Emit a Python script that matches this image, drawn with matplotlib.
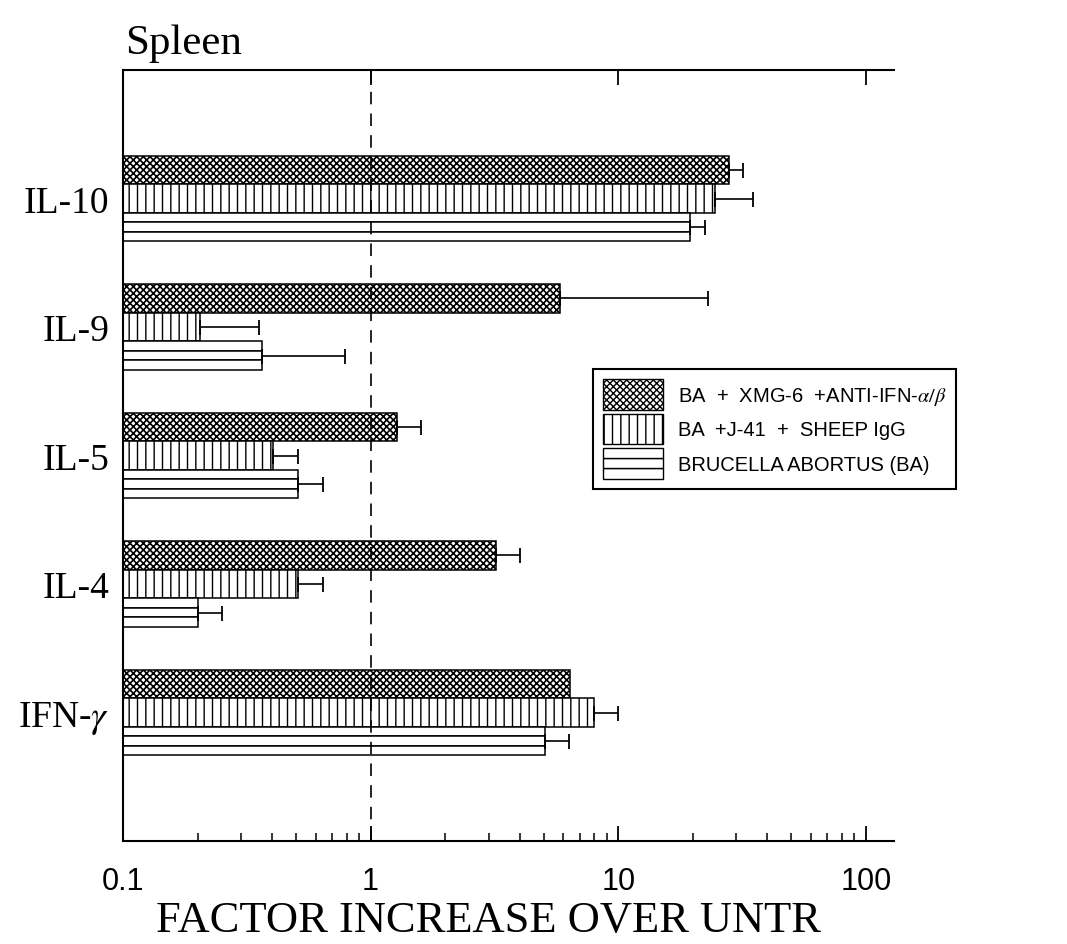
import numpy as np
import matplotlib
matplotlib.use("Agg")
import matplotlib.pyplot as plt
from matplotlib.patches import Patch, Rectangle
from matplotlib.legend_handler import HandlerBase
from matplotlib.ticker import LogLocator, FixedLocator, NullFormatter

plt.rcParams['mathtext.fontset'] = 'stix'

# ---- data ----
cytokines = ["IL-10", "IL-9", "IL-5", "IL-4", "IFN-$\\gamma$"]
series_labels = ["BA  +  XMG-6  +ANTI-IFN-$\\alpha/\\beta$",
                 "BA  +J-41  +  SHEEP IgG",
                 "BRUCELLA ABORTUS (BA)"]
xmg6_vals = [28.0, 5.8, 1.28, 3.2, 6.4]
xmg6_upper = [32.0, 23.0, 1.6, 4.0, np.nan]
j41_vals = [24.5, 0.204, 0.405, 0.51, 8.0]
j41_upper = [35.0, 0.355, 0.51, 0.64, 10.0]
ba_vals = [19.5, 0.363, 0.51, 0.20, 5.05]
ba_upper = [22.5, 0.79, 0.64, 0.25, 6.3]
xticks = [0.1, 1, 10, 100]
xticklabels = ["0.1", "1", "10", "100"]

XMIN, XMAX = 0.1, 130

fig = plt.figure(figsize=(10.67, 9.45), dpi=100)
ax = fig.add_axes([123/1067, 1-842/945, (894-123)/1067, (842-71)/945])

n = len(cytokines)
centers = 4.5 * (np.arange(n) + 1)
h = 1.0
lw_edge = 1.1
XHATCH = 'xxxxx'
XLW = 1.2

with plt.rc_context({'hatch.linewidth': XLW}):
    b1 = ax.barh(centers - h, np.array(xmg6_vals) - XMIN, left=XMIN, height=h,
                 facecolor='white', edgecolor='black', hatch=XHATCH, linewidth=lw_edge, zorder=2)
with plt.rc_context({'hatch.linewidth': 1.0}):
    b2 = ax.barh(centers, np.array(j41_vals) - XMIN, left=XMIN, height=h,
                 facecolor='white', edgecolor='black', hatch='||', linewidth=lw_edge, zorder=2)
# horizontal-stripe bars: three stacked strips
for k in range(3):
    ax.barh(centers + h - h/3 + k*h/3, np.array(ba_vals) - XMIN, left=XMIN, height=h/3,
            facecolor='white', edgecolor='black', linewidth=lw_edge, zorder=2)

def err(vals, upper, ypos):
    vals = np.array(vals); upper = np.array(upper)
    m = ~np.isnan(upper)
    ax.errorbar(vals[m], ypos[m], xerr=[np.zeros(m.sum()), (upper - vals)[m]],
                fmt='none', ecolor='black', elinewidth=1.2, capsize=5.4, capthick=1.3, zorder=3)

err(xmg6_vals, xmg6_upper, centers - h)
err(j41_vals, j41_upper, centers)
err(ba_vals, ba_upper, centers + h)

ax.axvline(1, color='black', lw=1.2, ls=(0, (7.5, 5.5)), zorder=4)

ax.set_xscale('log')
ax.set_xlim(XMIN, XMAX)
ax.set_ylim(27, 0)
ax.set_yticks(centers)
ax.set_yticklabels(cytokines, fontfamily='Liberation Serif', fontsize=27)
ax.tick_params(axis='y', length=0, pad=10)

ax.xaxis.set_major_locator(FixedLocator(xticks))
ax.set_xticklabels(xticklabels, fontfamily='Liberation Sans', fontsize=22)
ax.xaxis.set_minor_locator(LogLocator(base=10, subs=np.arange(2, 10)))
ax.xaxis.set_minor_formatter(NullFormatter())
ax.tick_params(axis='x', which='major', direction='in', length=11, width=1.3,
               top=True, bottom=True, pad=18)
ax.tick_params(axis='x', which='minor', direction='in', length=6, width=1.1,
               top=False, bottom=True)

for s in ['left', 'top', 'bottom']:
    ax.spines[s].set_linewidth(1.5)
ax.spines['right'].set_visible(False)

fig.text(125/1067, 1-44/945, "Spleen", fontfamily='Liberation Serif', fontsize=31,
         ha='left', va='center')
fig.text(489/1067, 1-921/945, "FACTOR INCREASE OVER UNTR", fontfamily='Liberation Serif',
         fontsize=32, ha='center', va='center')

class ThreeStripe(HandlerBase):
    def create_artists(self, legend, orig_handle, xdescent, ydescent, width, height, fontsize, trans):
        return [Rectangle((-xdescent, -ydescent + i*height/3), width, height/3,
                          facecolor='white', edgecolor='black', lw=1.0, transform=trans)
                for i in range(3)]

with plt.rc_context({'hatch.linewidth': XLW}):
    h1 = Patch(facecolor='white', edgecolor='black', hatch=XHATCH, lw=1.0)
with plt.rc_context({'hatch.linewidth': 1.0}):
    h2 = Patch(facecolor='white', edgecolor='black', hatch='||', lw=1.0)
h3 = Patch(facecolor='white', edgecolor='black')
leg = ax.legend([h1, h2, h3], series_labels, handler_map={h3: ThreeStripe()},
                loc='upper left', bbox_to_anchor=(593/1067, 1-370/945),
                bbox_transform=fig.transFigure, borderaxespad=0,
                prop={'family': 'Liberation Sans', 'size': 14.5},
                handlelength=3.0, handleheight=1.95, handletextpad=0.7,
                labelspacing=0.2, borderpad=0.5, fancybox=False, framealpha=1,
                edgecolor='black')
leg.get_frame().set_linewidth(1.5)
leg.set_zorder(5)

fig.savefig("out.png", dpi=100)
